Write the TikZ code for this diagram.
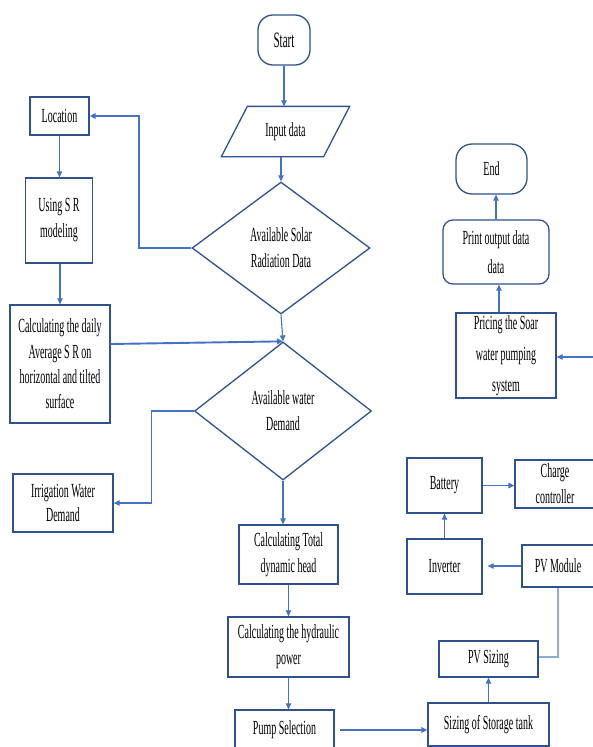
\documentclass[tikz,border=0pt]{standalone}
\usepackage{fontspec}
\setmainfont{Liberation Serif}[FakeStretch=0.5]
\usetikzlibrary{shapes.geometric,arrows.meta}

\definecolor{boxblue}{HTML}{2F528F}
\definecolor{arrowblue}{HTML}{4472C4}
\definecolor{paleblue}{HTML}{8FAADC}

\begin{document}
\begin{tikzpicture}[x=1pt,y=-1pt]

\tikzset{box/.style={draw=boxblue,line width=1.3pt,align=center,inner sep=2pt,font=\fontsize{20}{26}\selectfont},
    term/.style={box,rounded corners=15pt},
    decide/.style={box,diamond,inner sep=0pt},
    flow/.style={arrowblue,line width=1.1pt,-{Triangle[length=6pt,width=5.5pt]}},
    heavy/.style={line width=1.9pt}}

\useasboundingbox (0,0) rectangle (593,747);

% main column
\node[term,minimum width=52pt,minimum height=50pt,font=\fontsize{22}{26}\selectfont] (start) at (284,40) {Start};
\node[box,draw=none,minimum width=101pt,minimum height=49pt] (input) at (285.5,131.5) {Input data};
\draw[boxblue,line width=1.3pt] ([xshift=13pt]input.north west) -- ([xshift=13pt]input.north east)
    -- ([xshift=-13pt]input.south east) -- ([xshift=-13pt]input.south west) -- cycle;
\node[decide,minimum width=178pt,minimum height=132pt] (sol) at (281,248) {Available Solar\\Radiation Data};
\node[decide,minimum width=177pt,minimum height=138pt] (water) at (283,411) {Available water\\Demand};
\node[box,minimum width=99pt,minimum height=59pt] (head) at (288.5,554.5) {Calculating Total\\dynamic head};
\node[box,minimum width=121pt,minimum height=60pt] (hyd) at (288.5,647) {Calculating the hydraulic\\power};
\node[box,minimum width=99pt,minimum height=40pt] (pump) at (284.5,730) {Pump Selection};

% left column
\node[box,minimum width=59pt,minimum height=38pt] (loc) at (59.5,116) {Location};
\node[box,minimum width=67pt,minimum height=85pt] (using) at (59,220.5) {Using S R\\modeling};
\node[box,minimum width=100pt,minimum height=118pt,font=\fontsize{20}{25.3}\selectfont] (daily) at (60,364) {Calculating the daily\\Average S R on\\horizontal and tilted\\surface};
\node[box,minimum width=100pt,minimum height=58pt,font=\fontsize{20}{24}\selectfont] (irr) at (63,503) {Irrigation Water\\Demand};

% right column
\node[term,minimum width=71pt,minimum height=50pt,rounded corners=16pt] (end) at (491.5,169) {End};
\node[term,minimum width=106pt,minimum height=64pt,rounded corners=10pt,font=\fontsize{20}{29}\selectfont] (print) at (496,252) {Print output data\\data};
\node[box,minimum width=100pt,minimum height=85pt,font=\fontsize{20}{31}\selectfont] (pricing) at (506,355.5) {Pricing the Soar\\water pumping\\system};
\node[box,minimum width=75pt,minimum height=55pt] (bat) at (444.5,485.5) {Battery};
\node[box,minimum width=80pt,minimum height=48pt] (chg) at (555,484) {Charge\\controller};
\node[box,minimum width=75pt,minimum height=55pt] (inv) at (444.5,566.5) {Inverter};
\node[box,minimum width=72pt,minimum height=42pt] (pvm) at (558,566) {PV Module};
\node[box,minimum width=99pt,minimum height=36pt] (pvs) at (488.5,659) {PV Sizing};
\node[box,minimum width=121pt,minimum height=43pt] (tank) at (488.5,724.5) {Sizing of Storage tank};

\coordinate (feed) at (594,357);

% connectors
\draw[flow] (start.south) -- (start.south |- input.north);
\draw[flow] (input.south -| sol.north) -- (sol.north);
\draw[flow,heavy] (sol.west) -- ++(-52,0) |- (loc.east);
\draw[flow] (loc.south) -- (loc.south |- using.north);
\draw[flow] (using.south -| daily.north) -- (daily.north);
\draw[flow,heavy] ([yshift=20pt]daily.east) -- (water.north);
\draw[flow] (sol.south) -- (water.north);
\draw[flow] (water.west) -- ++(-42,0) |- (irr.east);
\draw[flow] (water.south) -- (water.south |- head.north);
\draw[flow] (head.south) -- (head.south |- hyd.north);
\draw[flow] (hyd.south) -- (hyd.south |- pump.north);
\draw[flow,heavy,shorten <=5pt] (pump.east) -- (pump.east -| tank.west);
\draw[flow] (tank.north) -- (pvs.south);
\draw[paleblue,line width=1.6pt] (pvm.south) |- ([yshift=2pt]pvs.east);
\draw[flow,shorten >=5pt] (pvm.west) -- (pvm.west -| inv.east);
\draw[flow] (inv.north) -- (bat.south);
\draw[flow,heavy] (bat.east) -- (bat.east -| chg.west);
\draw[flow] (feed) -- (feed -| pricing.east);
\draw[flow] ([xshift=-7pt]pricing.north) -- ([xshift=3pt]print.south);
\draw[flow] (print.north) -- (print.north |- end.south);

\end{tikzpicture}
\end{document}
